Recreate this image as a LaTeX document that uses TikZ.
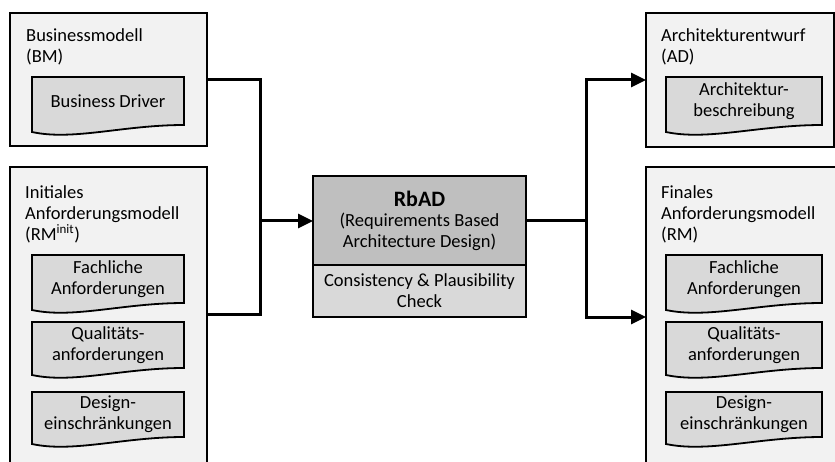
\documentclass[tikz,border=0pt]{standalone}
\usepackage{fontspec}
\setmainfont{Carlito}
\usetikzlibrary{arrows.meta,calc}

\definecolor{panelgray}{HTML}{F2F2F2}
\definecolor{docgray}{HTML}{D9D9D9}
\definecolor{coregray}{HTML}{BFBFBF}

\tikzset{
  txt/.style={font=\fontsize{18.5}{21}\selectfont},
  panel/.style={draw=black, line width=1.8pt, fill=panelgray, rectangle,
                inner sep=0pt, outer sep=0pt, anchor=north west},
  paneltitle/.style={txt, align=left, anchor=north west, inner sep=0pt},
  docshape/.style={draw=black, line width=1.8pt, fill=docgray, line join=miter},
  doctext/.style={txt, align=center, inner sep=0pt},
  corebox/.style={draw=black, line width=1.8pt, rectangle, inner sep=0pt,
                  outer sep=0pt, anchor=north west, align=center, txt},
  conn/.style={line width=3pt, line cap=rect},
  arr/.style={line width=3pt, -{Triangle[length=15pt,width=14pt]}},
}

% document symbol with a wavy lower edge:
% #1 name, #2 left x, #3 right x, #4 top y, #5 bottom y (right side), #6 text
\newcommand\docitem[6]{%
  \filldraw[docshape] (#2,#4) -- (#3,#4) -- (#3,#5)
    .. controls ({#2+0.6*(#3-#2)},#5) and ({#2+0.27*(#3-#2)},{#5+16}) .. (#2,{#5+7})
    -- cycle;
  \node[doctext] (#1) at ({(#2+#3)/2},{(#4+#5)/2}) {#6};
}

\begin{document}
\begin{tikzpicture}[x=1pt,y=-1pt]
  \useasboundingbox (0,0) rectangle (835,462);
  \clip (0,0) rectangle (835,462);

  % left column: input models
  \node[panel, minimum width=197pt, minimum height=133pt] (bm) at (10,13) {};
  \node[paneltitle] (bmt) at (26,28) {Businessmodell\\(BM)};
  \docitem{bd}{32}{184}{77}{125}{Business Driver}

  \node[panel, minimum width=197pt, minimum height=320pt] (rmi) at (10,167) {};
  \node[paneltitle] (rmit) at (25,185) {Initiales\\Anforderungsmodell\\(RM\textsuperscript{init})};
  \docitem{fa1}{32}{184}{255}{303}{Fachliche\\Anforderungen}
  \docitem{qa1}{32}{184}{322}{368}{Qualitäts-\\anforderungen}
  \docitem{de1}{32}{184}{392}{437}{Design-\\einschränkungen}

  % central method box
  \node[corebox, fill=coregray, minimum width=213pt, minimum height=89pt] (rbad) at (313,176)
    {{\fontsize{22}{24}\selectfont\bfseries RbAD}\\[-1pt](Requirements Based\\Architecture Design)};
  \node[corebox, fill=docgray, minimum width=213pt, minimum height=52pt] (chk) at (313,265)
    {Consistency \& Plausibility\\Check};

  % right column: output models
  \node[panel, minimum width=188pt, minimum height=134pt] (ad) at (646,13) {};
  \node[paneltitle] (adt) at (661,28) {Architekturentwurf\\(AD)};
  \docitem{ab}{666}{822}{77}{125}{Architektur-\\beschreibung}

  \node[panel, minimum width=192pt, minimum height=320pt] (rm) at (646,167) {};
  \node[paneltitle] (rmt) at (661,185) {Finales\\Anforderungsmodell\\(RM)};
  \docitem{fa2}{666}{822}{255}{303}{Fachliche\\Anforderungen}
  \docitem{qa2}{666}{822}{322}{368}{Qualitäts-\\anforderungen}
  \docitem{de2}{666}{822}{392}{437}{Design-\\einschränkungen}

  % connectors
  \coordinate (jl) at (260,221);
  \coordinate (rmiout) at (rmi.east |- 0,314);
  \draw[conn] (bm.east) -| (jl);
  \draw[conn] (rmiout) -| (jl);
  \draw[arr] (jl) -- (jl -| rbad.west);

  \coordinate (jr) at (586,221);
  \coordinate (rmin) at (rm.west |- 0,317);
  \draw[conn] (jl -| rbad.east) -- (jr);
  \draw[arr] (jr) |- (ad.west);
  \draw[arr] (jr) |- (rmin);
\end{tikzpicture}
\end{document}
